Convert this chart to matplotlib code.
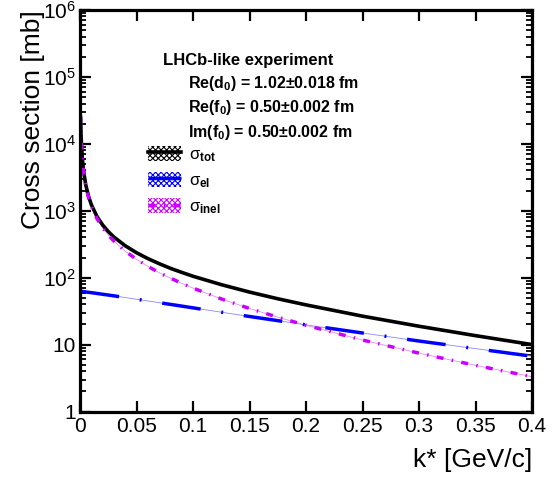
import numpy as np
import matplotlib
matplotlib.use('Agg')
import matplotlib.pyplot as plt
from matplotlib.ticker import LogLocator, NullLocator, NullFormatter
from matplotlib.patches import Patch
from matplotlib.lines import Line2D

# cross sections (mb) vs k* (GeV/c)
kstar = [0.0005, 0.001, 0.002, 0.003, 0.005, 0.0075, 0.01, 0.015, 0.02, 0.025,
         0.03, 0.04, 0.05, 0.06, 0.07, 0.08, 0.09, 0.1, 0.125, 0.15,
         0.175, 0.2, 0.25, 0.3, 0.35, 0.4]
sigma_tot = [24800, 12400, 6200, 4130, 2480, 1650, 1237, 822, 614, 489,
             405, 300, 236, 193, 162, 138, 120, 105, 78.7, 60.9,
             48.4, 39.2, 26.6, 18.8, 13.6, 10.0]
sigma_el = [62.7, 62.5, 62.2, 61.9, 61.2, 60.4, 59.7, 58.1, 56.5, 55.0,
            53.5, 50.5, 47.6, 44.9, 42.3, 39.9, 37.6, 35.4, 30.5, 26.3,
            22.8, 19.7, 14.9, 11.3, 8.7, 6.7]
sigma_inel = [24700, 12300, 6140, 4070, 2420, 1590, 1177, 764, 558, 434,
              352, 249, 188, 148, 119, 98.4, 82.4, 69.9, 48.2, 34.6,
              25.7, 19.4, 11.7, 7.45, 4.89, 3.31]

xticks = [0, 0.05, 0.1, 0.15, 0.2, 0.25, 0.3, 0.35, 0.4]
xticklabels = ['0', '0.05', '0.1', '0.15', '0.2', '0.25', '0.3', '0.35', '0.4']
yticks = [1, 10, 1e2, 1e3, 1e4, 1e5, 1e6]
yticklabels = ['1', '10', r'$10^{2}$', r'$10^{3}$', r'$10^{4}$', r'$10^{5}$', r'$10^{6}$']

info_lines = [r'Re(d$_{\mathbf{0}}$) = 1.02$\pm$0.018 fm',
              r'Re(f$_{\mathbf{0}}$) = 0.50$\pm$0.002 fm',
              r'Im(f$_{\mathbf{0}}$) = 0.50$\pm$0.002 fm']

plt.rcParams['font.family'] = ['Liberation Sans', 'DejaVu Sans']
plt.rcParams['mathtext.fontset'] = 'custom'
plt.rcParams['mathtext.rm'] = 'Liberation Sans'
plt.rcParams['mathtext.it'] = 'Liberation Sans:italic'
plt.rcParams['mathtext.bf'] = 'Liberation Sans:bold'
plt.rcParams['mathtext.sf'] = 'Liberation Sans'
plt.rcParams['mathtext.default'] = 'regular'
plt.rcParams['lines.scale_dashes'] = False
plt.rcParams['hatch.linewidth'] = 0.8

col_tot = 'black'
col_el = '#0000ff'
col_inel = '#cc00ff'
dash_el = (28, 15, 1.4, 15)
dash_inel = (5, 6, 1.1, 6)

fig = plt.figure(figsize=(5.55, 4.78), dpi=100)
ax = fig.add_axes([80 / 555, (478 - 411.5) / 478, 452 / 555, 401.5 / 478])

# thin "band" lines under the styled curves
ax.plot(kstar, sigma_el, color='#8888ff', lw=0.6)
ax.plot(kstar, sigma_inel, color='#e08cff', lw=0.6)

ax.plot(kstar, sigma_tot, color=col_tot, lw=2.6)
ax.plot(kstar, sigma_el, color=col_el, lw=2.5, dashes=dash_el)
ax.plot(kstar, sigma_inel, color=col_inel, lw=2.5, dashes=dash_inel)

ax.set_xlim(0, 0.4)
ax.set_yscale('log')
ax.set_ylim(1, 1e6)

ax.set_xticks(xticks)
ax.set_xticklabels(xticklabels)
ax.set_yticks(yticks)
ax.set_yticklabels(yticklabels)
ax.xaxis.set_minor_locator(NullLocator())
ax.yaxis.set_minor_locator(LogLocator(base=10, subs=np.arange(2, 10), numticks=100))
ax.yaxis.set_minor_formatter(NullFormatter())

ax.tick_params(which='both', direction='in', top=True, right=True, labelsize=15)
ax.tick_params(which='major', length=8, width=1.6)
ax.tick_params(which='minor', length=4, width=1.3)
ax.tick_params(axis='x', pad=4)
ax.tick_params(axis='y', pad=3)
for sp in ax.spines.values():
    sp.set_linewidth(2.3)

ax.set_ylabel('Cross section [mb]', fontsize=19, loc='top')
ax.yaxis.set_label_coords(-0.078, 1.0)
ax.set_xlabel('k* [GeV/c]', fontsize=19, loc='right')
ax.xaxis.set_label_coords(1.0, -0.092)

ax.text(0.184, 0.863, 'LHCb-like experiment', transform=ax.transAxes,
        fontsize=12, fontweight='bold', va='baseline')
for i, line in enumerate(info_lines):
    ax.text(0.239, 0.806 - i * 0.061, line, transform=ax.transAxes,
            fontsize=11.5, fontweight='bold', va='baseline')

handles = [
    (Patch(facecolor='white', edgecolor=col_tot, hatch='xxxxxx', lw=0),
     Line2D([], [], color=col_tot, lw=2.6)),
    (Patch(facecolor='white', edgecolor=col_el, hatch='xxxxxx', lw=0),
     Line2D([], [], color=col_el, lw=2.5, dashes=dash_el)),
    (Patch(facecolor='white', edgecolor=col_inel, hatch='xxxxxx', lw=0),
     Line2D([], [], color=col_inel, lw=2.5, dashes=dash_inel)),
]
labels = [r'$\sigma_{\mathbf{tot}}$', r'$\sigma_{\mathbf{el}}$', r'$\sigma_{\mathbf{inel}}$']
ax.legend(handles, labels, loc='upper left', bbox_to_anchor=(0.15, 0.662),
          frameon=False, fontsize=12, borderpad=0, borderaxespad=0,
          handlelength=2.0, handleheight=1.0, handletextpad=0.5,
          labelspacing=0.5)

fig.savefig('out.png', dpi=100)
